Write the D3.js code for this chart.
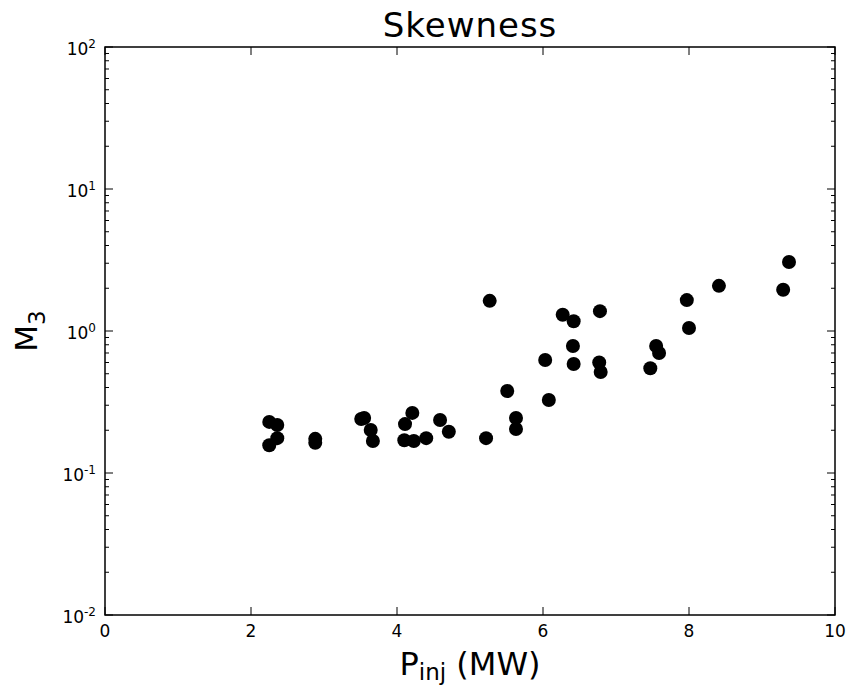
<!DOCTYPE html>
<html><head><meta charset="utf-8">
<script src="https://cdn.jsdelivr.net/npm/d3@7"></script>
<style>body{margin:0;background:#fff}svg{display:block}text{font-family:"DejaVu Sans",sans-serif;fill:#000}</style>
</head><body><svg id="c" width="848" height="685"></svg>
<script>
const pinj = [2.25,2.36,2.25,2.36,2.88,2.88,3.51,3.55,3.64,3.67,4.11,4.21,4.10,4.23,4.40,4.59,4.71,5.22,5.27,5.51,5.63,5.63,6.03,6.08,6.27,6.42,6.41,6.42,6.78,6.77,6.79,7.47,7.55,7.59,7.97,8.00,8.41,9.29,9.37];
const m3 = [0.229,0.218,0.157,0.176,0.174,0.163,0.240,0.244,0.201,0.168,0.221,0.265,0.170,0.168,0.176,0.236,0.195,0.176,1.63,0.378,0.244,0.204,0.625,0.327,1.30,1.17,0.784,0.586,1.38,0.600,0.514,0.546,0.784,0.700,1.65,1.05,2.08,1.95,3.06];
const xTicks = [0,2,4,6,8,10];
const yTickExps = [-2,-1,0,1,2];
const title = "Skewness";

const svg = d3.select("#c");
const L=105,R=835,T=47,B=615;
const x = d3.scaleLinear().domain([0,10]).range([L,R]);
const y = d3.scaleLog().domain([0.01,100]).range([B,T]);

const minor=[];
for(let e=-2;e<2;e++) for(let k=2;k<=9;k++) minor.push(k*Math.pow(10,e));
const g = svg.append("g");
minor.forEach(v=>{
  g.append("line").attr("x1",L).attr("x2",L+4).attr("y1",y(v)).attr("y2",y(v)).attr("stroke","#000").attr("stroke-width",1);
  g.append("line").attr("x1",R-4).attr("x2",R).attr("y1",y(v)).attr("y2",y(v)).attr("stroke","#000").attr("stroke-width",1);
});
yTickExps.forEach(e=>{
  const v=Math.pow(10,e);
  g.append("line").attr("x1",L).attr("x2",L+8).attr("y1",y(v)).attr("y2",y(v)).attr("stroke","#000").attr("stroke-width",1);
  g.append("line").attr("x1",R-8).attr("x2",R).attr("y1",y(v)).attr("y2",y(v)).attr("stroke","#000").attr("stroke-width",1);
  const t=g.append("text").attr("x",L-9).attr("y",y(v)+8).attr("text-anchor","end").attr("font-size",17);
  t.append("tspan").text("10");
  t.append("tspan").attr("dy",-7).attr("font-size",12).text(String(e));
});
xTicks.forEach(v=>{
  g.append("line").attr("x1",x(v)).attr("x2",x(v)).attr("y1",B).attr("y2",B-8).attr("stroke","#000");
  g.append("line").attr("x1",x(v)).attr("x2",x(v)).attr("y1",T).attr("y2",T+8).attr("stroke","#000");
  g.append("text").attr("x",x(v)).attr("y",B+22).attr("text-anchor","middle").attr("font-size",17).text(v);
});

svg.append("g").selectAll("circle").data(pinj.map((p,i)=>[p,m3[i]])).join("circle")
  .attr("cx",d=>x(d[0])).attr("cy",d=>y(d[1])).attr("r",7).attr("fill","#000");

svg.append("rect").attr("x",L).attr("y",T).attr("width",R-L).attr("height",B-T).attr("fill","none").attr("stroke","#000").attr("stroke-width",1.5);

svg.append("text").attr("x",(L+R)/2).attr("y",37).attr("text-anchor","middle").attr("font-size",34).attr("letter-spacing",1).text(title);
const xl=svg.append("text").attr("x",(L+R)/2).attr("y",675).attr("text-anchor","middle").attr("font-size",32);
xl.append("tspan").text("P");
xl.append("tspan").attr("dy",5).attr("font-size",23).text("inj");
xl.append("tspan").attr("dy",-5).text(" (MW)");
const yl=svg.append("text").attr("transform","translate(37,"+((T+B)/2)+") rotate(-90)").attr("text-anchor","middle").attr("font-size",31);
yl.append("tspan").text("M");
yl.append("tspan").attr("dy",8).attr("font-size",23).text("3");
</script></body></html>
